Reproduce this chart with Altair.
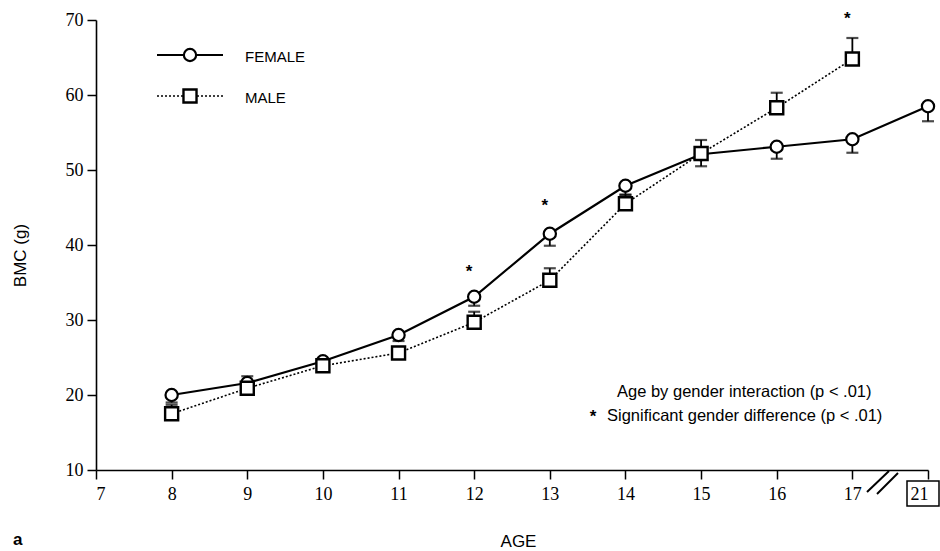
import altair as alt
import pandas as pd

# ---- data ----
ages = [8, 9, 10, 11, 12, 13, 14, 15, 16, 17, 21]
female_bmc = [20.0, 21.6, 24.5, 28.0, 33.1, 41.5, 47.9, 52.1, 53.1, 54.1, 58.5]
female_se = [1.0, 0.8, 0.8, 0.8, 1.2, 1.6, 1.2, 1.6, 1.6, 1.8, 2.0]

male_ages = [8, 9, 10, 11, 12, 13, 14, 15, 16, 17]
male_bmc = [17.5, 20.9, 23.9, 25.6, 29.7, 35.3, 45.5, 52.2, 58.3, 64.8]
male_se = [1.2, 1.6, 0.8, 0.8, 1.4, 1.6, 1.2, 1.8, 2.0, 2.8]

star_ages = [12, 13, 17]
star_bmc = [37.1, 45.9, 70.8]

x_tick_positions = [7, 8, 9, 10, 11, 12, 13, 14, 15, 16, 17, 18]
y_ticks = [10, 20, 30, 40, 50, 60, 70]

note1 = "Age by gender interaction (p < .01)"
note2 = "Significant gender difference (p < .01)"


def axis_pos(a):
    # broken axis: age 21 sits one step after 17
    return a if a <= 17 else 18


fem = pd.DataFrame({
    "pos": [axis_pos(a) for a in ages],
    "bmc": female_bmc,
    "err": [b - s for b, s in zip(female_bmc, female_se)],
})
mal = pd.DataFrame({
    "pos": [axis_pos(a) for a in male_ages],
    "bmc": male_bmc,
    "err": [b + s for b, s in zip(male_bmc, male_se)],
})
stars = pd.DataFrame({"pos": star_ages, "bmc": star_bmc, "t": ["*"] * 3})

W, H = 832, 450
XS = alt.Scale(domain=[7, 18], nice=False, zero=False)
YS = alt.Scale(domain=[10, 70], nice=False, zero=False)


def X(field):
    return alt.X(
        f"{field}:Q", scale=XS,
        axis=alt.Axis(values=x_tick_positions,
                      labelExpr="datum.value == 18 ? '21' : datum.value",
                      title="AGE", titleY=71, titleBaseline="middle",
                      titleX=422, labelPadding=6),
    )


def Y(field):
    return alt.Y(
        f"{field}:Q", scale=YS,
        axis=alt.Axis(values=y_ticks, title="BMC (g)", titleX=-76, titleY=235,
                      titleBaseline="middle", labelPadding=4),
    )


f_line = alt.Chart(fem).mark_line(color="black", strokeWidth=2.2).encode(x=X("pos"), y=Y("bmc"))
m_line = alt.Chart(mal).mark_line(color="black", strokeWidth=1.6, strokeDash=[2, 2]).encode(
    x=X("pos"), y=Y("bmc"))

f_err = alt.Chart(fem).mark_rule(color="black", strokeWidth=1.8).encode(
    x=X("pos"), y=Y("bmc"), y2="err:Q")
f_cap = alt.Chart(fem).mark_tick(color="black", orient="horizontal", size=12, thickness=2.2).encode(
    x=X("pos"), y=Y("err"))
m_err = alt.Chart(mal).mark_rule(color="black", strokeWidth=1.8).encode(
    x=X("pos"), y=Y("bmc"), y2="err:Q")
m_cap = alt.Chart(mal).mark_tick(color="black", orient="horizontal", size=12, thickness=2.2).encode(
    x=X("pos"), y=Y("err"))

f_pts = alt.Chart(fem).mark_point(shape="circle", size=150, filled=False, fill="white",
                                  fillOpacity=1, color="black", strokeWidth=2.2, opacity=1).encode(
    x=X("pos"), y=Y("bmc"))
m_pts = alt.Chart(mal).mark_point(shape="square", size=170, filled=False, fill="white",
                                  fillOpacity=1, color="black", strokeWidth=2.4, opacity=1).encode(
    x=X("pos"), y=Y("bmc"))

star_marks = alt.Chart(stars).mark_text(font="Liberation Sans", fontSize=17, fontWeight="bold",
                                        color="black", baseline="middle", dx=-5, dy=5).encode(
    x=X("pos"), y=Y("bmc"), text="t:N")

# ---- legend (drawn by hand, top-left) ----
leg_lines = pd.DataFrame({"x0": [61, 61], "x1": [127, 127], "y0": [35, 76]})
leg_f_line = alt.Chart(leg_lines.iloc[[0]]).mark_rule(color="black", strokeWidth=2).encode(
    x=alt.X("x0:Q", scale=None), x2="x1:Q", y=alt.Y("y0:Q", scale=None))
leg_m_line = alt.Chart(leg_lines.iloc[[1]]).mark_rule(color="black", strokeWidth=1.5,
                                                     strokeDash=[2, 2]).encode(
    x=alt.X("x0:Q", scale=None), x2="x1:Q", y=alt.Y("y0:Q", scale=None))
leg_pts = pd.DataFrame({"x": [94, 94], "y": [35, 76]})
leg_f_pt = alt.Chart(leg_pts.iloc[[0]]).mark_point(shape="circle", size=150, fill="white",
                                                  fillOpacity=1, color="black",
                                                  strokeWidth=2.2, opacity=1).encode(
    x=alt.X("x:Q", scale=None), y=alt.Y("y:Q", scale=None))
leg_m_pt = alt.Chart(leg_pts.iloc[[1]]).mark_point(shape="square", size=170, fill="white",
                                                  fillOpacity=1, color="black",
                                                  strokeWidth=2.4, opacity=1).encode(
    x=alt.X("x:Q", scale=None), y=alt.Y("y:Q", scale=None))
leg_txt = pd.DataFrame({"x": [149, 149], "y": [37, 78], "t": ["FEMALE", "MALE"]})
leg_text = alt.Chart(leg_txt).mark_text(font="Liberation Sans", fontSize=15, align="left",
                                        baseline="middle", color="black").encode(
    x=alt.X("x:Q", scale=None), y=alt.Y("y:Q", scale=None), text="t:N")

# ---- notes ----
notes = pd.DataFrame({"x": [521, 511], "y": [372, 396], "t": [note1, note2]})
note_text = alt.Chart(notes).mark_text(font="Liberation Sans", fontSize=16.5, align="left",
                                       baseline="middle", color="black").encode(
    x=alt.X("x:Q", scale=None), y=alt.Y("y:Q", scale=None), text="t:N")
note_star = pd.DataFrame({"x": [497], "y": [392], "t": ["*"]})
note_star_mark = alt.Chart(note_star).mark_text(font="Liberation Sans", fontSize=17,
                                                fontWeight="bold", align="center",
                                                baseline="middle", color="black", dy=5).encode(
    x=alt.X("x:Q", scale=None), y=alt.Y("y:Q", scale=None), text="t:N")

# ---- axis break, boxed 21, panel letter ----
brk = pd.DataFrame({"x0": [771, 781], "x1": [793, 802], "y0": [472, 474], "y1": [451, 453]})
brk_marks = alt.Chart(brk).mark_rule(color="black", strokeWidth=2).encode(
    x=alt.X("x0:Q", scale=None), x2="x1:Q", y=alt.Y("y0:Q", scale=None), y2="y1:Q")
box = pd.DataFrame({"x0": [811], "x1": [843], "y0": [461], "y1": [486]})
box_mark = alt.Chart(box).mark_rect(fill="transparent", stroke="black", strokeWidth=1.5).encode(
    x=alt.X("x0:Q", scale=None), x2="x1:Q", y=alt.Y("y0:Q", scale=None), y2="y1:Q")
letter = pd.DataFrame({"x": [-83], "y": [520], "t": ["a"]})
letter_mark = alt.Chart(letter).mark_text(font="Liberation Sans", fontSize=17, fontWeight="bold",
                                          align="left", baseline="middle", color="black").encode(
    x=alt.X("x:Q", scale=None), y=alt.Y("y:Q", scale=None), text="t:N")

chart = alt.layer(
    f_line, m_line, f_err, f_cap, m_err, m_cap, f_pts, m_pts, star_marks,
    leg_f_line, leg_m_line, leg_f_pt, leg_m_pt, leg_text, note_text, note_star_mark,
    brk_marks, box_mark, letter_mark,
).resolve_scale(x="shared", y="shared").properties(
    width=W, height=H,
    padding={"left": 96, "top": 20, "right": 12, "bottom": 81},
    autosize=alt.AutoSizeParams(type="none"),
    background="white",
).configure_view(stroke=None).configure_axis(
    grid=False, domainColor="black", domainWidth=1.6, tickColor="black", tickWidth=1.5,
    tickSize=9, labelFont="Liberation Serif", labelFontSize=18, labelColor="black",
    titleFont="Liberation Sans", titleFontSize=17, titleFontWeight="normal", titleColor="black",
)

chart.save("out.html", embed_options={"renderer": "svg", "actions": False})
